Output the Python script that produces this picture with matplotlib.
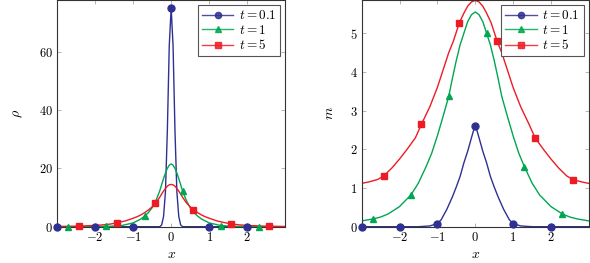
import matplotlib
matplotlib.use("Agg")
import matplotlib.pyplot as plt
from matplotlib.ticker import FuncFormatter
from matplotlib.lines import Line2D

plt.rcParams['mathtext.fontset'] = 'cm'
plt.rcParams['font.family'] = 'serif'
plt.rcParams['font.serif'] = ['DejaVu Serif']

BLUE = '#2e3192'
GREEN = '#00a651'
RED = '#ed1c24'

labels = ['$t = 0.1$', '$t = 1$', '$t = 5$']

# ---- left panel: rho ----
rho_x01 = [-3, -1, -0.5, -0.3, -0.25, -0.2, -0.15, -0.1, -0.05, 0,
           0.05, 0.1, 0.15, 0.2, 0.25, 0.3, 0.5, 1, 3]
rho_y01 = [0, 0, 0, 0, 0.6, 3.5, 12, 33, 62, 75,
           62, 33, 12, 3.5, 0.6, 0, 0, 0, 0]
rho_mx01 = [-3, -2, -1, 0, 1, 2]
rho_my01 = [0, 0, 0, 75, 0, 0]

rho_x1 = [-3, -2, -1.6, -1.3, -1.0, -0.8, -0.7, -0.6, -0.5, -0.4, -0.35, -0.3, -0.25,
          -0.2, -0.15, -0.1, -0.05, 0,
          0.05, 0.1, 0.15, 0.2, 0.25, 0.3, 0.35, 0.4, 0.5, 0.6, 0.7, 0.8, 1.0, 1.3, 1.6, 2, 3]
rho_y1 = [0, 0.05, 0.15, 0.4, 1.3, 2.6, 3.6, 4.8, 6.5, 9, 10.6, 12.3, 14.4,
          16.5, 18.4, 20, 21.1, 21.5,
          21.1, 20, 18.4, 16.5, 14.4, 12.3, 10.6, 9, 6.5, 4.8, 3.6, 2.6, 1.3, 0.4, 0.15, 0.05, 0]
rho_mx1 = [-2.7, -1.7, -0.7, 0.3, 1.3, 2.3]
rho_my1 = [0, 0.12, 3.6, 12.3, 0.4, 0.02]

rho_x5 = [-3, -2.4, -2, -1.8, -1.6, -1.4, -1.2, -1.0, -0.9, -0.8, -0.7, -0.6, -0.5, -0.4,
          -0.3, -0.25, -0.2, -0.15, -0.1, -0.05, 0,
          0.05, 0.1, 0.15, 0.2, 0.25, 0.3, 0.4, 0.5, 0.6, 0.7, 0.8, 0.9, 1.0, 1.2, 1.4,
          1.6, 1.8, 2, 2.4, 3]
rho_y5 = [0.08, 0.2, 0.45, 0.62, 0.9, 1.4, 2.0, 2.9, 3.4, 4.0, 4.8, 5.7, 6.8, 8.2,
          10.1, 11.2, 12.2, 13.1, 13.9, 14.35, 14.5,
          14.35, 13.9, 13.1, 12.2, 11.2, 10.1, 8.2, 6.8, 5.7, 4.8, 4.0, 3.4, 2.9, 2.0, 1.4,
          0.9, 0.62, 0.45, 0.2, 0.08]
rho_mx5 = [-2.42, -1.42, -0.42, 0.58, 1.58, 2.58]
rho_my5 = [0.2, 1.4, 8.2, 5.7, 0.8, 0.15]

# ---- right panel: m ----
m_x01 = [-3, -1.5, -1.2, -1.0, -0.9, -0.75, -0.6, -0.5, -0.4, -0.3, -0.2, -0.1, -0.05, 0,
         0.05, 0.1, 0.2, 0.3, 0.4, 0.5, 0.6, 0.75, 0.9, 1.0, 1.2, 1.5, 3]
m_y01 = [0, 0, 0.02, 0.08, 0.18, 0.45, 0.78, 1.03, 1.3, 1.65, 1.95, 2.3, 2.47, 2.6,
         2.47, 2.3, 1.95, 1.65, 1.3, 1.03, 0.78, 0.45, 0.18, 0.08, 0.02, 0, 0]
m_mx01 = [-3, -2, -1, 0, 1, 2]
m_my01 = [0, 0, 0.06, 2.6, 0.06, 0]

m_x1 = [-3, -2.7, -2.5, -2.3, -2.0, -1.7, -1.5, -1.3, -1.15, -1.0, -0.85, -0.7, -0.6, -0.5,
        -0.4, -0.3, -0.2, -0.1, 0,
        0.1, 0.2, 0.3, 0.4, 0.5, 0.6, 0.7, 0.85, 1.0, 1.15, 1.3, 1.5, 1.7, 2.0, 2.3,
        2.5, 2.7, 3]
m_y1 = [0.15, 0.2, 0.25, 0.33, 0.52, 0.82, 1.13, 1.55, 1.9, 2.35, 2.85, 3.37, 3.85, 4.3,
        4.7, 5.0, 5.3, 5.48, 5.55,
        5.48, 5.3, 5.0, 4.7, 4.3, 3.85, 3.37, 2.85, 2.35, 1.9, 1.55, 1.13, 0.82, 0.52, 0.33,
        0.25, 0.2, 0.15]
m_mx1 = [-2.7, -1.7, -0.7, 0.3, 1.3, 2.3]
m_my1 = [0.2, 0.82, 3.37, 5.0, 1.55, 0.33]

m_x5 = [-3, -2.8, -2.58, -2.42, -2.2, -2.0, -1.8, -1.58, -1.42, -1.2, -1.0, -0.9, -0.8,
        -0.7, -0.58, -0.42, -0.3, -0.2, -0.1, 0,
        0.1, 0.2, 0.3, 0.42, 0.58, 0.7, 0.8, 0.9, 1.0, 1.2, 1.42, 1.58, 1.8, 2.0, 2.2,
        2.42, 2.58, 2.8, 3]
m_y5 = [1.12, 1.16, 1.22, 1.31, 1.52, 1.75, 2.0, 2.3, 2.65, 3.1, 3.6, 3.9, 4.2,
        4.5, 4.79, 5.27, 5.52, 5.7, 5.81, 5.85,
        5.81, 5.7, 5.52, 5.27, 4.79, 4.5, 4.2, 3.9, 3.6, 3.1, 2.65, 2.3, 2.0, 1.75, 1.52,
        1.31, 1.22, 1.16, 1.12]
m_mx5 = [-2.42, -1.42, -0.42, 0.58, 1.58, 2.58]
m_my5 = [1.31, 2.65, 5.27, 4.79, 2.3, 1.22]

fig = plt.figure(figsize=(5.9, 2.63), dpi=100)
ax1 = fig.add_axes([0.0966, 0.138, 0.387, 0.862])
ax2 = fig.add_axes([0.613, 0.138, 0.385, 0.862])

styles = [(BLUE, 'o', 5), (GREEN, '^', 5), (RED, 's', 5)]

def draw(ax, curves, ylim, yticks, ylabel):
    for (x, y, mx, my), (c, mk, ms) in zip(curves, styles):
        ax.plot(x, y, color=c, lw=1.0, clip_on=True)
        ax.plot(mx, my, ls='none', marker=mk, color=c, ms=ms, clip_on=False, zorder=3)
    ax.set_xlim(-3, 3)
    ax.set_ylim(*ylim)
    ax.set_xticks([-2, -1, 0, 1, 2])
    ax.set_yticks(yticks)
    fmt = FuncFormatter(lambda v, p: f'${v:g}$')
    ax.xaxis.set_major_formatter(fmt)
    ax.yaxis.set_major_formatter(fmt)
    ax.tick_params(direction='in', length=3, width=0.5, color='#999999',
                   top=True, right=True, labelsize=9, pad=3)
    for s in ax.spines.values():
        s.set_linewidth(0.8)
        s.set_color('#333333')
    ax.set_xlabel('$x$', fontsize=10, labelpad=2)
    ax.set_ylabel(ylabel, fontsize=10, labelpad=10)
    handles = [Line2D([0], [0], color=c, marker=mk, ms=4.5, lw=1.0, alpha=0.85)
               for c, mk, ms in styles]
    leg = ax.legend(handles, labels, loc='upper right', fontsize=9.5, fancybox=False,
                    framealpha=1, edgecolor='#555555', handlelength=2.4,
                    borderpad=0.3, labelspacing=0.12, handletextpad=0.4,
                    borderaxespad=0.4)
    leg.get_frame().set_linewidth(0.8)

draw(ax1, [(rho_x01, rho_y01, rho_mx01, rho_my01),
           (rho_x1, rho_y1, rho_mx1, rho_my1),
           (rho_x5, rho_y5, rho_mx5, rho_my5)],
     (0, 77.7), [0, 20, 40, 60], r'$\rho$')
draw(ax2, [(m_x01, m_y01, m_mx01, m_my01),
           (m_x1, m_y1, m_mx1, m_my1),
           (m_x5, m_y5, m_mx5, m_my5)],
     (0, 5.86), [0, 1, 2, 3, 4, 5], '$m$')

fig.savefig('out.png', dpi=100)
